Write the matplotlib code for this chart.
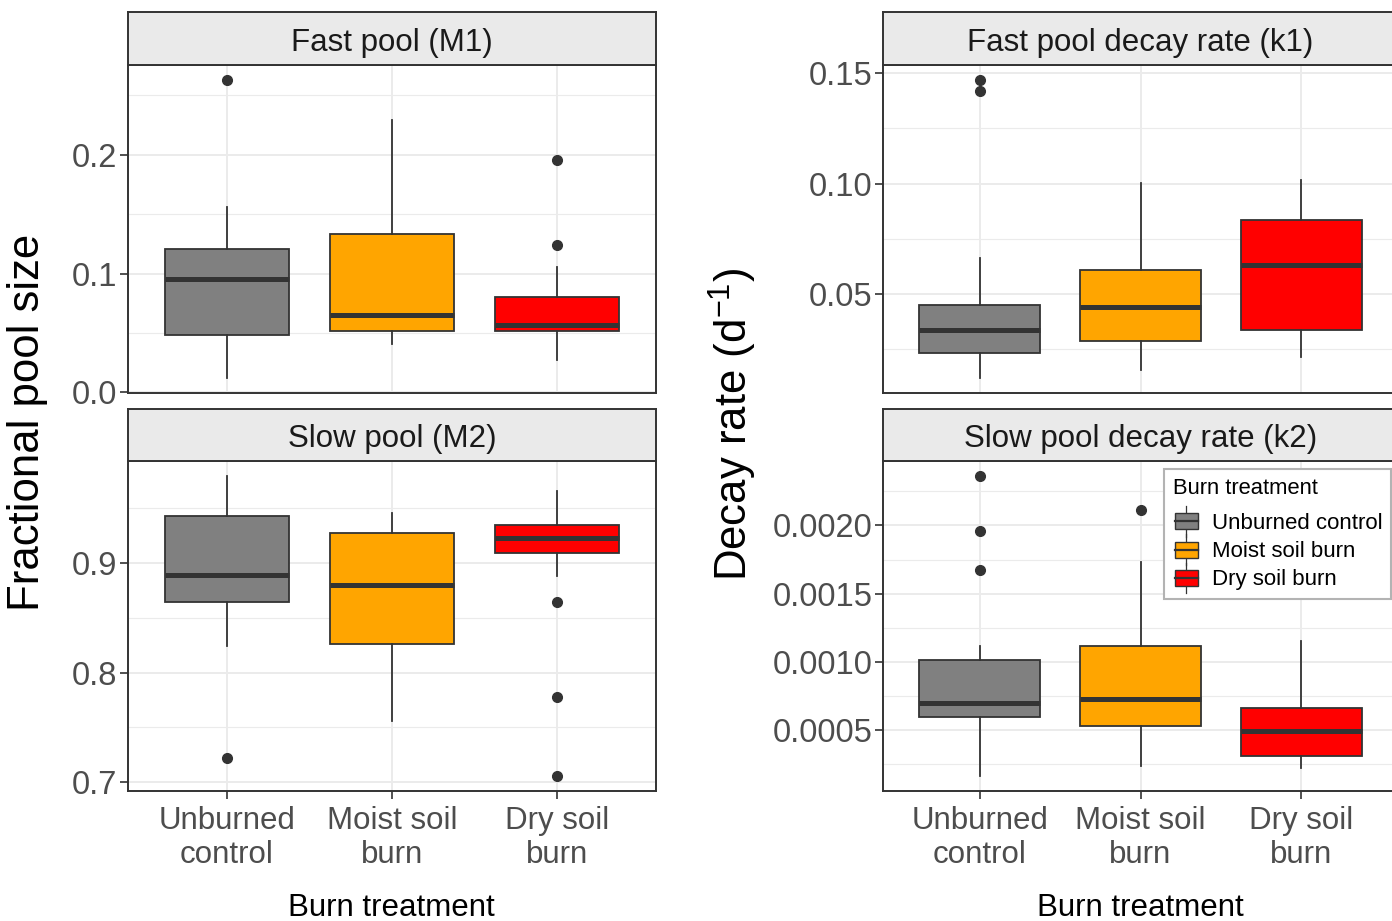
import matplotlib
matplotlib.use("Agg")
import matplotlib.pyplot as plt
import numpy as np
from matplotlib.patches import Rectangle
from matplotlib.lines import Line2D
from matplotlib.legend_handler import HandlerBase
from matplotlib.ticker import FixedLocator, FormatStrFormatter

plt.rcParams['font.family'] = ['Liberation Sans', 'DejaVu Sans']
plt.rcParams['mathtext.fontset'] = 'custom'
plt.rcParams['mathtext.rm'] = 'Liberation Sans'
plt.rcParams['mathtext.it'] = 'Liberation Sans:italic'

# ---------------- data ----------------
categories = ["Unburned\ncontrol", "Moist soil\nburn", "Dry soil\nburn"]
legend_labels = ["Unburned control", "Moist soil burn", "Dry soil burn"]
fill_colors = ["#808080", "#FFA500", "#FF0000"]

m1_whislo = [0.012, 0.041, 0.027]
m1_q1 = [0.048, 0.052, 0.052]
m1_med = [0.0955, 0.065, 0.057]
m1_q3 = [0.121, 0.1335, 0.080]
m1_whishi = [0.156, 0.229, 0.1055]
m1_fliers = [[0.263], [], [0.196, 0.124]]

m2_whislo = [0.8246, 0.7553, 0.8884]
m2_q1 = [0.8647, 0.8262, 0.9088]
m2_med = [0.8896, 0.8799, 0.9231]
m2_q3 = [0.9431, 0.9279, 0.9346]
m2_whishi = [0.9796, 0.9461, 0.9662]
m2_fliers = [[0.7219], [], [0.8641, 0.7778, 0.7055]]

k1_whislo = [0.0120, 0.0157, 0.0217]
k1_q1 = [0.0235, 0.0288, 0.0338]
k1_med = [0.0338, 0.0443, 0.0630]
k1_q3 = [0.0450, 0.0608, 0.0837]
k1_whishi = [0.0664, 0.1004, 0.1018]
k1_fliers = [[0.1469, 0.1421], [], []]

k2_whislo = [0.000165, 0.000236, 0.000221]
k2_q1 = [0.000598, 0.000532, 0.000314]
k2_med = [0.000698, 0.000727, 0.000495]
k2_q3 = [0.001013, 0.001118, 0.000666]
k2_whishi = [0.001118, 0.001734, 0.00115]
k2_fliers = [[0.002362, 0.001959, 0.001671], [0.002111], []]

m1_ticks = [0.0, 0.1, 0.2]
m2_ticks = [0.7, 0.8, 0.9]
k1_ticks = [0.05, 0.10, 0.15]
k2_ticks = [0.0005, 0.0010, 0.0015, 0.0020]

strip_titles = ["Fast pool (M1)", "Slow pool (M2)",
                "Fast pool decay rate (k1)", "Slow pool decay rate (k2)"]

# ---------------- styling ----------------
W, H = 1392, 921
fig = plt.figure(figsize=(W / 100, H / 100), dpi=100)

DARK = "#333333"
GRID = "#EBEBEB"
TICKC = "#4D4D4D"
STRIP_FILL = "#EAEAEA"


def px_axes(x0, y0, x1, y1):
    return fig.add_axes([x0 / W, 1 - y1 / H, (x1 - x0) / W, (y1 - y0) / H])


def draw_panel(x0, x1, ys0, yp0, yp1, title, whislo, q1, med, q3, whishi, fliers,
               ticks, fmt, minor, show_x):
    ax = px_axes(x0, yp0, x1, yp1)
    stats = []
    for i in range(len(med)):
        stats.append(dict(whislo=whislo[i], q1=q1[i], med=med[i], q3=q3[i],
                          whishi=whishi[i], fliers=fliers[i]))
    pos = np.arange(1, len(med) + 1)
    bp = ax.bxp(stats, positions=pos, widths=0.75, patch_artist=True,
                showcaps=False, zorder=3,
                boxprops=dict(edgecolor=DARK, linewidth=1.3),
                medianprops=dict(color=DARK, linewidth=3.6, solid_capstyle='butt'),
                whiskerprops=dict(color=DARK, linewidth=1.3),
                flierprops=dict(marker='o', markerfacecolor=DARK, markeredgecolor=DARK,
                                markersize=7))
    for patch, c in zip(bp['boxes'], fill_colors):
        patch.set_facecolor(c)
    allv = list(whislo) + list(whishi) + [v for f in fliers for v in f]
    lo, hi = min(allv), max(allv)
    r = hi - lo
    ax.set_ylim(lo - 0.05 * r, hi + 0.05 * r)
    ax.set_xlim(0.4, len(med) + 0.6)
    ax.yaxis.set_major_locator(FixedLocator(ticks))
    ax.yaxis.set_major_formatter(FormatStrFormatter(fmt))
    ax.yaxis.set_minor_locator(FixedLocator(minor))
    ax.set_xticks(pos)
    ax.grid(True, which='major', color=GRID, linewidth=1.4, zorder=0)
    ax.grid(True, which='minor', axis='y', color=GRID, linewidth=0.8, zorder=0)
    ax.set_axisbelow(True)
    ax.tick_params(axis='y', which='minor', length=0)
    ax.tick_params(axis='both', which='major', length=5.5, width=1.2, color=DARK,
                   labelcolor=TICKC, labelsize=22.5, pad=2)
    ax.tick_params(axis='y', which='major', labelsize=23.5)
    if show_x:
        ax.set_xticklabels(categories, linespacing=1.2)
        ax.tick_params(axis='x', which='major', pad=5)
    else:
        ax.tick_params(axis='x', which='major', length=0, labelbottom=False)
    for s in ax.spines.values():
        s.set_color(DARK)
        s.set_linewidth(1.4)
    # strip
    sax = px_axes(x0, ys0, x1, yp0)
    sax.set_xticks([])
    sax.set_yticks([])
    sax.set_facecolor(STRIP_FILL)
    for s in sax.spines.values():
        s.set_color(DARK)
        s.set_linewidth(1.4)
    sax.text(0.5, 0.42, title, ha='center', va='center', fontsize=22.5,
             color="#1A1A1A", transform=sax.transAxes)
    return ax


ax_tl = draw_panel(128, 656, 12, 65, 393, strip_titles[0], m1_whislo, m1_q1, m1_med,
                   m1_q3, m1_whishi, m1_fliers, m1_ticks, '%.1f', [0.05, 0.15, 0.25], False)
ax_bl = draw_panel(128, 656, 409, 461, 791, strip_titles[1], m2_whislo, m2_q1, m2_med,
                   m2_q3, m2_whishi, m2_fliers, m2_ticks, '%.1f', [0.75, 0.85, 0.95], True)
ax_tr = draw_panel(883, 1398, 12, 65, 393, strip_titles[2], k1_whislo, k1_q1, k1_med,
                   k1_q3, k1_whishi, k1_fliers, k1_ticks, '%.2f', [0.025, 0.075, 0.125], False)
ax_br = draw_panel(883, 1398, 409, 461, 791, strip_titles[3], k2_whislo, k2_q1, k2_med,
                   k2_q3, k2_whishi, k2_fliers, k2_ticks, '%.4f',
                   [0.00025, 0.00075, 0.00125, 0.00175, 0.00225], True)

# axis titles
fig.text(28 / W, 1 - 422 / H, "Fractional pool size", rotation=90, ha='center',
         va='center', fontsize=31.5, color='black')
fig.text(733 / W, 1 - 424 / H, r"Decay rate (d$^{\mathrm{-1}}$)", rotation=90,
         ha='center', va='center', fontsize=31.5, color='black')
fig.text(391 / W, 1 - 908 / H, "Burn treatment", ha='center', va='center',
         fontsize=22.5, color='black')
fig.text(1140 / W, 1 - 908 / H, "Burn treatment", ha='center', va='center',
         fontsize=22.5, color='black')


# legend with boxplot glyphs
class BoxHandler(HandlerBase):
    def create_artists(self, legend, orig_handle, xdescent, ydescent, width, height,
                       fontsize, trans):
        c = orig_handle.get_facecolor()
        bw = width * 0.85
        bx = xdescent + (width - bw) / 2
        by = -ydescent + height * 0.08
        bh = height * 0.84
        cx = bx + bw / 2
        wl1 = Line2D([cx, cx], [-ydescent - height * 0.3, by], color=DARK,
                     linewidth=0.9, transform=trans)
        wl2 = Line2D([cx, cx], [by + bh, -ydescent + height * 1.3], color=DARK,
                     linewidth=0.9, transform=trans)
        rect = Rectangle((bx, by), bw, bh, facecolor=c, edgecolor=DARK,
                         linewidth=1.0, transform=trans)
        med = Line2D([bx, bx + bw], [by + bh / 2] * 2, color=DARK, linewidth=1.6,
                     transform=trans)
        return [wl1, wl2, rect, med]


handles = [Rectangle((0, 0), 1, 1, facecolor=c) for c in fill_colors]
leg = fig.legend(handles, legend_labels, title="Burn treatment",
                 handler_map={Rectangle: BoxHandler()},
                 loc='upper left', bbox_to_anchor=(1164 / W, 1 - 469 / H),
                 bbox_transform=fig.transFigure,
                 fontsize=16, title_fontsize=15.8, frameon=True, fancybox=False,
                 edgecolor="#B3B3B3", framealpha=1, handlelength=1.2,
                 handleheight=0.95, handletextpad=0.55, labelspacing=0.27,
                 borderpad=0.4, borderaxespad=0, alignment='left')
leg.get_frame().set_linewidth(1.5)
leg._legend_box.sep = 0.27 * 16 + 5

fig.savefig("out.png", dpi=100)
